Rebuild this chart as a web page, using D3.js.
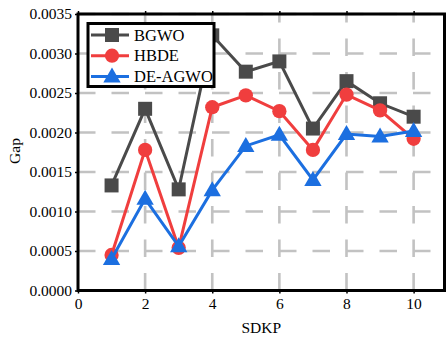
<!DOCTYPE html>
<html><head><meta charset="utf-8">
<script src="https://cdn.jsdelivr.net/npm/d3@7"></script>
<style>body{margin:0;background:#fff}svg{display:block}text{font-family:"Liberation Serif","Times New Roman",serif;fill:#000}</style>
</head><body>
<svg id="c" width="446" height="338"></svg>
<script>
const xValues = [1,2,3,4,5,6,7,8,9,10];
const bgwo   = [0.00133,0.00230,0.00128,0.00323,0.00277,0.00290,0.00205,0.00265,0.00237,0.00220];
const hbde   = [0.00045,0.00178,0.00054,0.00232,0.00247,0.00227,0.00178,0.00248,0.00228,0.00192];
const deagwo = [0.00040,0.00116,0.00056,0.00127,0.00183,0.00197,0.00140,0.00198,0.00195,0.00202];
const xTicks = [0,2,4,6,8,10];
const yTicks = [0,0.0005,0.0010,0.0015,0.0020,0.0025,0.0030,0.0035];
const seriesNames = ["BGWO","HBDE","DE-AGWO"];

const svg = d3.select("#c");
const L=78, R=444.5, T=14, B=290.5;
const x = d3.scaleLinear().domain([0,10.92]).range([L,R]);
const y = d3.scaleLinear().domain([0,0.0035]).range([B,T]);

// grid
const g = svg.append("g");
g.selectAll("line.h").data(yTicks).join("line")
  .attr("x1",L).attr("x2",R).attr("y1",d=>y(d)).attr("y2",d=>y(d))
  .attr("stroke","#c2c2c2").attr("stroke-width",2.6).attr("stroke-dasharray","17.5,16");
g.selectAll("line.v").data(xTicks.filter(d=>d>0)).join("line")
  .attr("x1",d=>x(d)).attr("x2",d=>x(d)).attr("y1",B).attr("y2",T)
  .attr("stroke","#c2c2c2").attr("stroke-width",2.6).attr("stroke-dasharray","17.5,16");

const series = [
  {name:seriesNames[0], vals:bgwo, color:"#4a4a4a", marker:"square"},
  {name:seriesNames[1], vals:hbde, color:"#f03e3e", marker:"circle"},
  {name:seriesNames[2], vals:deagwo, color:"#1c6fe0", marker:"triangle"}
];
const sym = {square:d3.symbol(d3.symbolSquare,196), circle:d3.symbol(d3.symbolCircle,160), triangle:d3.symbol(d3.symbolTriangle,130)};
const line = d3.line().x((d,i)=>x(xValues[i])).y(d=>y(d));

series.forEach(s=>{
  svg.append("path").attr("d",line(s.vals)).attr("fill","none").attr("stroke",s.color).attr("stroke-width",3).attr("stroke-linejoin","miter");
  svg.append("g").selectAll("path").data(s.vals).join("path")
    .attr("d",sym[s.marker]())
    .attr("transform",(d,i)=>`translate(${x(xValues[i])},${y(d)+(s.marker==="triangle"?1:0)})`)
    .attr("fill",s.color);
});

// axes
const fmt = d3.format(".4f");
const ax = svg.append("g").attr("transform",`translate(0,${B})`)
  .call(d3.axisBottom(x).tickValues(xTicks).tickSize(3).tickPadding(4).tickFormat(d3.format("d")));
const axT = svg.append("g").attr("transform",`translate(0,${T})`)
  .call(d3.axisTop(x).tickValues(xTicks).tickSize(3).tickFormat(""));
const ay = svg.append("g").attr("transform",`translate(${L},0)`)
  .call(d3.axisLeft(y).tickValues(yTicks).tickSize(3).tickPadding(3).tickFormat(fmt));
[ax,axT,ay].forEach(a=>{
  a.select(".domain").remove();
  a.selectAll(".tick line").attr("stroke","#000").attr("stroke-width",1.5);
  a.selectAll("text").style("font-size","15.5px").attr("fill","#000");
});
// frame
svg.append("rect").attr("x",L).attr("y",T).attr("width",R-L).attr("height",B-T)
  .attr("fill","none").attr("stroke","#000").attr("stroke-width",3);

// axis labels
svg.append("text").attr("x",(L+R)/2).attr("y",333).attr("text-anchor","middle").style("font-size","15.5px").text("SDKP");
svg.append("text").attr("transform","translate(20,151) rotate(-90)").attr("text-anchor","middle").style("font-size","15.5px").text("Gap");

// legend
const lg = svg.append("g");
lg.append("rect").attr("x",88).attr("y",23.5).attr("width",126).attr("height",63).attr("fill","#fff").attr("stroke","#000").attr("stroke-width",3);
series.forEach((s,i)=>{
  const yy = 35 + i*20.7;
  lg.append("line").attr("x1",91).attr("x2",129).attr("y1",yy).attr("y2",yy).attr("stroke",s.color).attr("stroke-width",3);
  lg.append("path").attr("d",sym[s.marker]()).attr("transform",`translate(112,${yy+(s.marker==="triangle"?1:0)})`).attr("fill",s.color);
  lg.append("text").attr("x",134).attr("y",yy+5.5).style("font-size","16.5px").text(s.name);
});
</script>
</body></html>
